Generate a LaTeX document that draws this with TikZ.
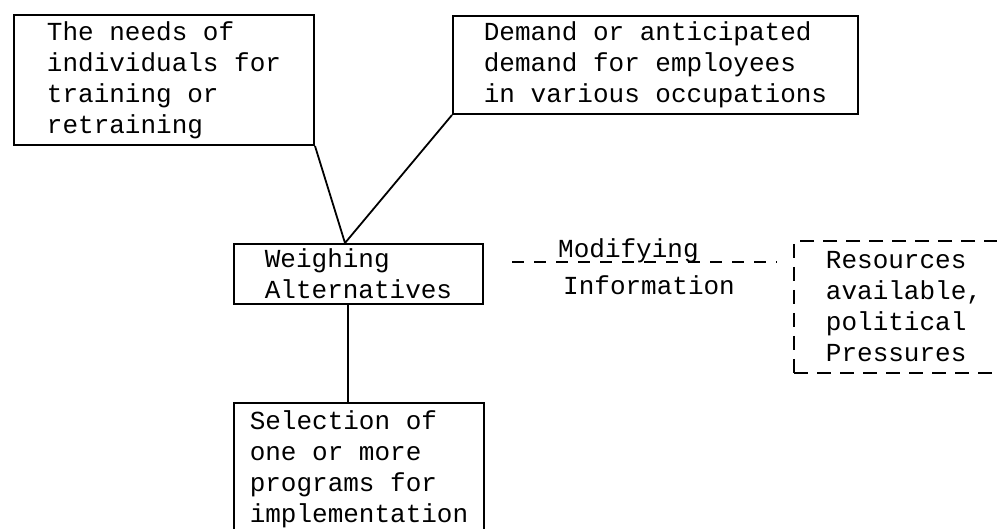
\documentclass[tikz,border=0pt]{standalone}
\usepackage{fontspec}
\setmainfont{Liberation Mono}
\usetikzlibrary{calc}

\begin{document}
\begin{tikzpicture}[x=1pt, y=-1pt,
	every node/.style={font=\fontsize{26}{31}\selectfont},
	box/.style={draw, line width=2pt, align=left, anchor=north west, inner sep=0pt},
	dashbox/.style={box, dash pattern=on 14pt off 9pt},
	link/.style={line width=1.8pt}]
	%%%%% START %%%%%
	\useasboundingbox (0, 0) rectangle (997, 529);
	
	\node[box, minimum width=300pt, minimum height=130pt] (needs) at (13, 14) {The needs of\\individuals for\\training or\\retraining};
	\node[box, minimum width=405pt, minimum height=98pt] (demand) at (452, 15) {Demand or anticipated\\demand for employees\\in various occupations};
	
	\node[box, minimum width=249pt, minimum height=60pt] (weigh) at (233, 243) {Weighing\\Alternatives};
	\node[box, minimum width=250pt, minimum height=132pt] (sel) at (233, 402) {Selection of\\one or more\\programs for\\implementation};
	
	\node[dashbox, minimum width=220pt, minimum height=132pt] (res) at (793, 240) {Resources\\available,\\political\\Pressures};
	
	\coordinate (apex) at ($(weigh.north west)+(112, 0)$);
	\draw[link] (needs.south east) -- (apex) -- (demand.south west);
	\draw[link] ($(weigh.south west)+(115, 0)$) -- ($(sel.north west)+(115, 0)$);
	
	\coordinate (modL) at (512, 262);
	\coordinate (modR) at (777, 262);
	\draw[link, dash pattern=on 12pt off 10pt] (modL) -- (modR);
	\node[anchor=base west, inner sep=0pt] (mod) at (558, 258) {Modifying};
	\node[anchor=base west, inner sep=0pt] (info) at (563, 295) {Information};
	%%%%% END %%%%%
\end{tikzpicture}
\end{document}
